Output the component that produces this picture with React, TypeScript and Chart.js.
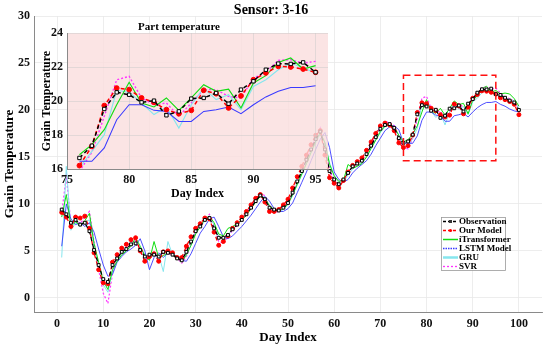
import React, { useEffect, useRef } from 'react';
import { Chart, registerables } from 'chart.js';

Chart.register(...registerables);

const FONT = "'Liberation Serif', 'Times New Roman', serif";

const days = Array.from({ length: 100 }, (_, i) => i + 1);

const observation = [
  9.4, 8.9, 8.0, 8.3, 7.8, 8.0, 7.1, 5.1, 3.5, 2.0,
  1.7, 3.5, 4.2, 4.9, 5.2, 5.7, 5.8, 5.1, 4.4, 4.6,
  4.6, 4.4, 4.9, 4.8, 4.6, 4.2, 4.0, 4.9, 6.0, 7.1,
  7.6, 8.3, 8.5, 7.4, 6.4, 6.4, 6.7, 7.3, 7.8, 8.3,
  8.9, 9.6, 10.3, 10.9, 10.5, 9.6, 9.4, 9.3, 9.6, 10.1,
  11.2, 12.4, 13.5, 14.7, 15.8, 16.9, 17.7, 15.8, 13.5, 12.6,
  12.1, 12.6, 13.3, 14.0, 14.3, 14.6, 15.3, 16.2, 17.1, 18.0,
  18.4, 18.5, 18.1, 17.0, 16.5, 16.65, 17.37, 19.53, 20.51, 20.37,
  19.92, 20.02, 19.16, 19.39, 20.14, 20.18, 20.47, 19.84, 20.67, 21.16,
  21.84, 22.2, 22.18, 22.27, 21.69, 21.6, 21.3, 21.0, 20.8, 20.0,
];

const ourModel = [
  9.1, 8.6, 7.6, 8.6, 8.5, 8.7, 7.4, 4.8, 3.0, 1.6,
  1.5, 3.8, 4.6, 5.3, 5.7, 6.2, 6.4, 5.0, 3.9, 4.4,
  4.7, 3.9, 4.9, 5.0, 4.8, 4.3, 4.3, 5.5, 6.5, 7.4,
  7.9, 8.5, 8.4, 7.0, 5.6, 6.0, 6.6, 7.4, 8.0, 8.6,
  9.2, 9.9, 10.6, 11.0, 10.2, 9.2, 9.2, 9.4, 9.9, 10.5,
  11.7, 12.9, 14.0, 15.2, 16.3, 17.3, 17.8, 15.2, 12.8, 12.2,
  11.7, 12.5, 13.4, 14.1, 14.5, 14.9, 15.7, 16.6, 17.5, 18.3,
  18.6, 18.4, 17.8, 16.5, 16.0, 16.2, 17.33, 19.73, 20.76, 20.67,
  20.18, 19.92, 19.49, 19.25, 19.45, 20.63, 20.43, 19.59, 20.3, 21.25,
  21.65, 22.04, 22.0, 21.88, 21.69, 21.3, 21.1, 20.9, 20.6, 19.5,
];

const iTransformer = [
  8.6, 11.0, 7.6, 8.1, 7.7, 8.2, 9.0, 5.8, 3.8, 1.8,
  0.9, 3.0, 3.9, 4.6, 5.0, 5.5, 6.4, 5.5, 4.5, 4.0,
  6.0, 4.3, 4.5, 4.8, 4.7, 4.3, 3.8, 4.6, 5.6, 6.8,
  7.6, 8.4, 8.7, 8.0, 6.8, 6.6, 7.4, 7.6, 7.9, 8.3,
  8.8, 9.5, 10.2, 10.8, 10.6, 9.8, 9.4, 9.3, 9.5, 10.0,
  11.0, 12.1, 13.2, 14.3, 15.5, 16.7, 17.6, 16.5, 14.2, 13.0,
  12.4, 12.5, 14.2, 13.8, 14.0, 14.3, 15.0, 15.9, 16.8, 17.7,
  18.3, 18.4, 18.2, 17.3, 16.6, 16.84, 17.43, 18.31, 19.78, 21.1,
  19.88, 19.65, 20.18, 19.45, 20.18, 20.96, 20.57, 20.7, 19.59, 21.06,
  21.49, 22.27, 22.53, 21.88, 22.08, 21.7, 21.8, 21.7, 21.2, 20.4,
];

const lstmModel = [
  5.5, 10.0, 8.4, 7.8, 8.0, 7.6, 8.0, 7.0, 5.2, 3.5,
  2.3, 2.5, 3.8, 4.4, 4.9, 5.2, 5.6, 6.3, 5.0, 3.0,
  4.3, 4.8, 4.3, 4.8, 4.7, 4.4, 4.0, 3.9, 4.7, 5.8,
  6.9, 7.6, 8.4, 8.6, 7.6, 6.5, 6.3, 6.6, 7.1, 7.6,
  8.2, 8.8, 9.5, 10.2, 10.8, 10.3, 9.5, 9.2, 9.2, 9.5,
  10.1, 11.2, 12.3, 13.4, 14.6, 15.8, 16.9, 17.6, 16.0, 13.4,
  12.6, 12.3, 12.6, 13.3, 13.8, 14.2, 14.6, 15.3, 16.2, 17.0,
  17.8, 18.2, 18.3, 17.9, 16.5, 16.45, 16.45, 17.24, 18.9, 19.78,
  19.78, 19.45, 19.39, 18.8, 18.8, 19.39, 19.49, 19.65, 19.25, 19.78,
  20.24, 20.57, 20.8, 20.8, 20.9, 20.6, 20.4, 20.1, 19.9, 19.8,
];

const gru = [
  4.3, 14.0, 7.2, 8.0, 7.6, 8.1, 8.3, 5.6, 3.4, 1.4,
  0.6, 2.8, 4.0, 4.6, 5.1, 5.6, 5.9, 5.4, 4.6, 4.2,
  4.6, 4.6, 2.8, 6.0, 4.6, 4.3, 3.9, 4.5, 5.6, 6.9,
  7.5, 8.2, 8.6, 7.8, 6.6, 6.3, 6.7, 7.3, 7.8, 8.3,
  8.9, 9.6, 10.3, 10.9, 10.7, 9.8, 9.3, 9.2, 9.4, 9.9,
  10.9, 12.0, 13.1, 14.3, 15.4, 16.5, 17.4, 16.6, 14.4, 13.0,
  12.3, 12.3, 13.1, 13.7, 14.1, 14.4, 15.0, 15.9, 16.8, 17.6,
  18.2, 18.4, 18.2, 17.3, 16.2, 16.06, 17.04, 18.02, 20.63, 20.51,
  19.88, 19.2, 19.65, 18.41, 19.78, 20.76, 20.08, 20.37, 19.49, 20.86,
  21.25, 21.84, 22.23, 21.94, 21.65, 21.5, 21.3, 21.1, 20.9, 20.2,
];

const svr = [
  9.0, 13.0, 7.8, 8.2, 7.9, 8.6, 9.2, 6.0, 3.0, 0.5,
  -0.6, 2.6, 4.2, 4.9, 5.4, 5.9, 6.1, 5.2, 4.3, 4.5,
  4.8, 4.3, 5.0, 4.6, 4.7, 4.2, 3.7, 4.4, 5.8, 7.0,
  7.7, 8.4, 8.9, 7.6, 6.0, 5.8, 6.5, 7.2, 7.7, 8.4,
  9.0, 9.7, 10.4, 11.1, 10.9, 9.6, 9.1, 9.2, 9.5, 10.1,
  11.2, 12.3, 13.4, 14.6, 15.8, 17.0, 18.1, 16.4, 13.6, 12.5,
  11.9, 12.4, 13.2, 13.9, 14.3, 14.6, 15.4, 16.3, 17.3, 18.2,
  18.7, 18.7, 18.3, 17.1, 16.0, 15.86, 16.98, 19.1, 21.25, 21.45,
  20.18, 19.78, 19.88, 19.1, 19.88, 20.67, 20.67, 20.27, 20.18, 21.35,
  21.69, 22.39, 22.43, 22.23, 22.33, 21.8, 21.4, 21.2, 20.9, 20.1,
];

const X_TICKS = [0, 10, 20, 30, 40, 50, 60, 70, 80, 90, 100];
const Y_TICKS = [0, 5, 10, 15, 20, 25, 30];
const INSET_X_TICKS = [75, 80, 85, 90, 95];
const INSET_Y_TICKS = [16, 18, 20, 22, 24];
const ZOOM_BOX = { x0: 75, x1: 95, y0: 14.6, y1: 23.7 };
const INSET_RANGE = { from: 76, to: 95 };

type Style = {
  label: string;
  values: number[];
  color: string;
  dash: number[];
  width: number;
  point: 'rect' | 'circle' | null;
  fill: string;
  legendWidth: number;
  legendDash: number[];
};

const SERIES: Style[] = [
  { label: 'Observation', values: observation, color: '#000000', dash: [4, 3], width: 1.3, point: 'rect', fill: '#ffffff', legendWidth: 1.3, legendDash: [3, 2] },
  { label: 'Our Model', values: ourModel, color: '#ff0000', dash: [4, 3], width: 1.3, point: 'circle', fill: '#ff0000', legendWidth: 1.3, legendDash: [3, 2] },
  { label: 'iTransformer', values: iTransformer, color: '#10dd10', dash: [], width: 1, point: null, fill: '', legendWidth: 1.5, legendDash: [] },
  { label: 'LSTM Model', values: lstmModel, color: '#3a3aff', dash: [], width: 0.9, point: null, fill: '', legendWidth: 1.5, legendDash: [1.5, 1] },
  { label: 'GRU', values: gru, color: '#86e6ee', dash: [], width: 1, point: null, fill: '', legendWidth: 2.5, legendDash: [] },
  { label: 'SVR', values: svr, color: '#ff33ff', dash: [2, 2], width: 1.2, point: null, fill: '', legendWidth: 1.3, legendDash: [2, 2] },
];

function makeDatasets(from: number, to: number, pr: number, scale: number) {
  return SERIES.map((s) => ({
    label: s.label,
    data: days
      .map((d, i) => ({ x: d, y: s.values[i] }))
      .filter((p) => p.x >= from && p.x <= to),
    borderColor: s.color,
    borderWidth: s.width * scale,
    borderDash: s.dash,
    pointStyle: s.point || 'circle',
    pointRadius: s.point ? pr : 0,
    pointBackgroundColor: s.fill || s.color,
    pointBorderColor: s.color,
    pointBorderWidth: 1,
    fill: false,
    tension: 0,
  }));
}

const legendPlugin = {
  id: 'boxLegend',
  afterDraw(chart: any) {
    const ctx = chart.ctx as CanvasRenderingContext2D;
    const a = chart.chartArea;
    const x0 = a.right - 101;
    const y0 = a.bottom - 95;
    const w = 64;
    const h = 53;
    ctx.save();
    ctx.fillStyle = '#ffffff';
    ctx.fillRect(x0, y0, w, h);
    ctx.strokeStyle = '#9a9a9a';
    ctx.lineWidth = 0.8;
    ctx.strokeRect(x0 + 0.5, y0 + 0.5, w, h);
    ctx.font = `bold 9px ${FONT}`;
    ctx.textBaseline = 'middle';
    ctx.textAlign = 'left';
    SERIES.forEach((s, i) => {
      const y = y0 + 4.5 + i * 9;
      const lx1 = x0 + 2;
      const lx2 = x0 + 17;
      ctx.strokeStyle = s.color;
      ctx.lineWidth = s.legendWidth;
      ctx.setLineDash(s.legendDash);
      ctx.beginPath();
      ctx.moveTo(lx1, y);
      ctx.lineTo(lx2, y);
      ctx.stroke();
      ctx.setLineDash([]);
      const cx = (lx1 + lx2) / 2;
      if (s.point === 'rect') {
        ctx.fillStyle = '#333';
        ctx.fillRect(cx - 1.5, y - 1.5, 3, 3);
      } else if (s.point === 'circle') {
        ctx.fillStyle = s.color;
        ctx.beginPath();
        ctx.arc(cx, y, 1.6, 0, Math.PI * 2);
        ctx.fill();
      }
      ctx.fillStyle = '#000';
      ctx.fillText(s.label, x0 + 18, y + 0.5);
    });
    ctx.restore();
  },
};

const zoomBoxPlugin = {
  id: 'zoomBox',
  afterDatasetsDraw(chart: any) {
    const ctx = chart.ctx as CanvasRenderingContext2D;
    const xs = chart.scales.x;
    const ys = chart.scales.y;
    const l = xs.getPixelForValue(ZOOM_BOX.x0);
    const r = xs.getPixelForValue(ZOOM_BOX.x1);
    const t = ys.getPixelForValue(ZOOM_BOX.y1);
    const b = ys.getPixelForValue(ZOOM_BOX.y0);
    ctx.save();
    ctx.strokeStyle = '#ff1010';
    ctx.lineWidth = 1.5;
    ctx.setLineDash([7, 4]);
    ctx.strokeRect(l, t, r - l, b - t);
    ctx.restore();
  },
};

const pinkPlugin = {
  id: 'pinkBg',
  beforeDraw(chart: any) {
    const ctx = chart.ctx as CanvasRenderingContext2D;
    const a = chart.chartArea;
    ctx.save();
    ctx.fillStyle = 'rgba(250, 221, 221, 0.8)';
    ctx.fillRect(a.left, a.top, a.right - a.left, a.bottom - a.top);
    ctx.restore();
  },
};

const tickFont = (size: number) => ({ family: FONT, size, weight: 'bold' as const });

export default function App() {
  const mainRef = useRef<HTMLCanvasElement>(null);
  const insetRef = useRef<HTMLCanvasElement>(null);

  useEffect(() => {
    const main = new Chart(mainRef.current!, {
      type: 'line',
      data: { datasets: makeDatasets(1, 100, 2, 1) as any },
      options: {
        animation: false,
        responsive: false,
        maintainAspectRatio: false,
        layout: { padding: { left: 0, right: 8, top: 0, bottom: 0 } },
        plugins: {
          legend: { display: false },
          tooltip: { enabled: false },
          title: {
            display: true,
            text: 'Sensor: 3-16',
            color: '#000',
            font: tickFont(14),
            padding: { top: 1.6, bottom: -2.4 },
          },
        },
        scales: {
          x: {
            type: 'linear',
            min: -5,
            max: 105,
            afterBuildTicks: (s: any) => {
              s.ticks = X_TICKS.map((v) => ({ value: v }));
            },
            afterFit: (s: any) => {
              s.height = 37;
            },
            ticks: { color: '#111', font: tickFont(12), padding: 5, maxRotation: 0 },
            grid: { color: '#e9e9e9', lineWidth: 0.8, drawTicks: false },
            border: { display: true, color: '#8a8a8a', width: 1 },
            title: {
              display: true,
              text: 'Day Index',
              color: '#000',
              font: tickFont(13),
              padding: { top: 0, bottom: 3.2 },
            },
          },
          y: {
            type: 'linear',
            min: -1.5,
            max: 30,
            afterBuildTicks: (s: any) => {
              s.ticks = Y_TICKS.map((v) => ({ value: v }));
            },
            afterFit: (s: any) => {
              s.width = 34;
            },
            ticks: { color: '#111', font: tickFont(12), padding: 4 },
            grid: { color: '#e9e9e9', lineWidth: 0.8, drawTicks: false },
            border: { display: true, color: '#8a8a8a', width: 1 },
            title: {
              display: true,
              text: 'Grain Temperature',
              color: '#000',
              font: tickFont(13),
              padding: { top: 2.2, bottom: 0 },
            },
          },
        },
      },
      plugins: [zoomBoxPlugin, legendPlugin],
    } as any);

    const inset = new Chart(insetRef.current!, {
      type: 'line',
      data: { datasets: makeDatasets(INSET_RANGE.from, INSET_RANGE.to, 2.4, 1.15) as any },
      options: {
        animation: false,
        responsive: false,
        maintainAspectRatio: false,
        layout: { padding: { left: 0, right: 12, top: 0, bottom: 0 } },
        plugins: {
          legend: { display: false },
          tooltip: { enabled: false },
          title: {
            display: true,
            text: 'Part temperature',
            color: '#000',
            font: tickFont(11),
            padding: { top: 6.4, bottom: -0.6 },
          },
        },
        scales: {
          x: {
            type: 'linear',
            min: 75,
            max: 96,
            afterBuildTicks: (s: any) => {
              s.ticks = INSET_X_TICKS.map((v) => ({ value: v }));
            },
            afterFit: (s: any) => {
              s.height = 35;
            },
            ticks: { color: '#111', font: tickFont(12), padding: 4, maxRotation: 0 },
            grid: { color: 'rgba(200,200,200,0.6)', lineWidth: 0.8, drawTicks: false },
            border: { display: true, color: '#8a8a8a', width: 1 },
            title: {
              display: true,
              text: 'Day Index',
              color: '#000',
              font: tickFont(12),
              padding: { top: 0, bottom: 3.2 },
            },
          },
          y: {
            type: 'linear',
            min: 16,
            max: 24,
            afterBuildTicks: (s: any) => {
              s.ticks = INSET_Y_TICKS.map((v) => ({ value: v }));
            },
            afterFit: (s: any) => {
              s.width = 37;
            },
            ticks: { color: '#111', font: tickFont(12), padding: 4 },
            grid: { color: 'rgba(200,200,200,0.6)', lineWidth: 0.8, drawTicks: false },
            border: { display: true, color: '#8a8a8a', width: 1 },
            title: {
              display: true,
              text: 'Grain Temperature',
              color: '#000',
              font: tickFont(12),
              padding: { top: 10, bottom: 0 },
            },
          },
        },
      },
      plugins: [pinkPlugin],
    } as any);

    return () => {
      main.destroy();
      inset.destroy();
    };
  }, []);

  return (
    <div style={{ position: 'fixed', left: 0, top: 0, width: 550, height: 349, background: '#ffffff' }}>
      <canvas ref={mainRef} width={550} height={349} style={{ position: 'absolute', left: 0, top: 0 }} />
      <canvas ref={insetRef} width={310} height={190} style={{ position: 'absolute', left: 30, top: 14 }} />
    </div>
  );
}
